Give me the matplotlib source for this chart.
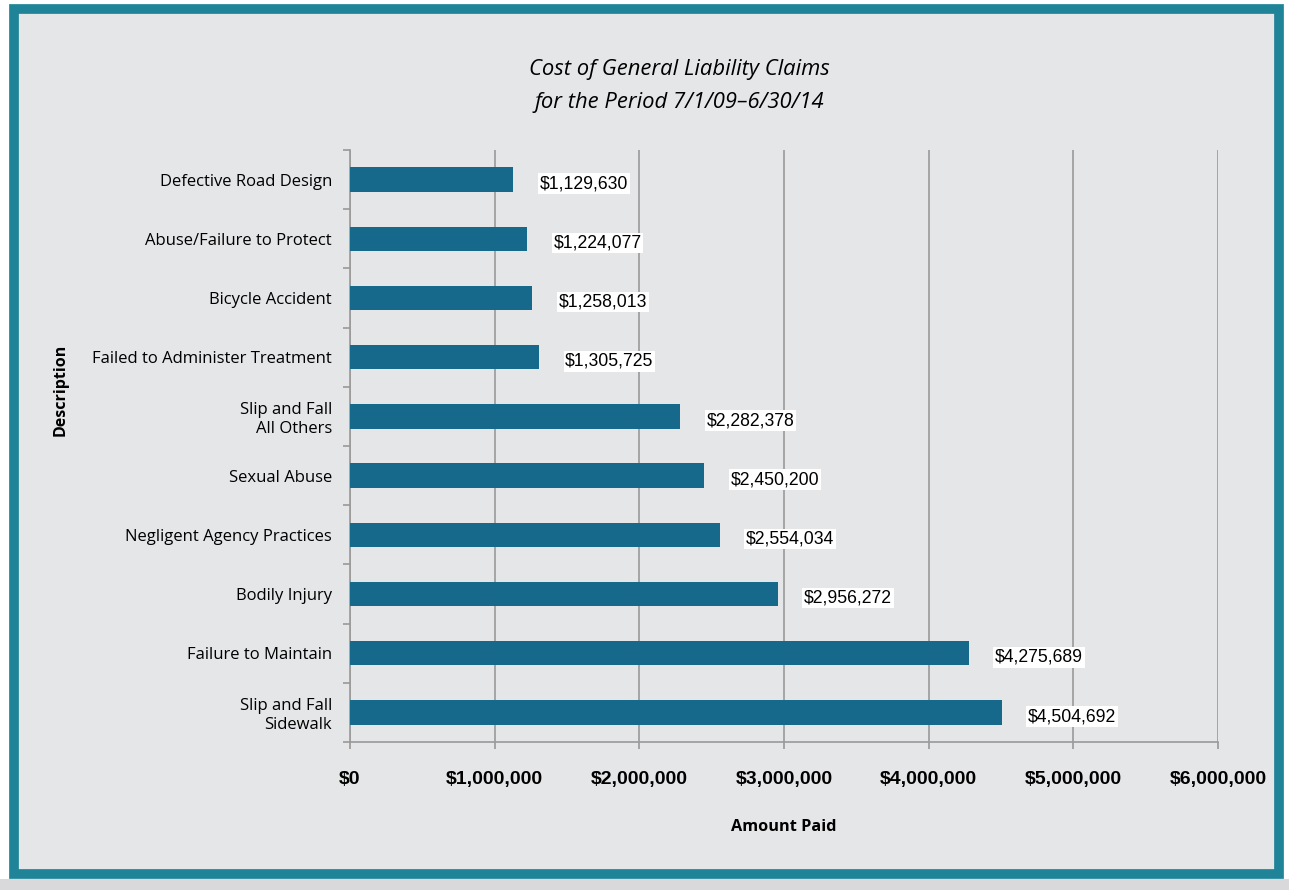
import matplotlib.pyplot as plt
from matplotlib.patches import Rectangle
from matplotlib.ticker import FuncFormatter, MultipleLocator

# claim categories, top to bottom
categories = [
    "Defective Road Design",
    "Abuse/Failure to Protect",
    "Bicycle Accident",
    "Failed to Administer Treatment",
    "Slip and Fall\nAll Others",
    "Sexual Abuse",
    "Negligent Agency Practices",
    "Bodily Injury",
    "Failure to Maintain",
    "Slip and Fall\nSidewalk",
]
amounts = [1129630, 1224077, 1258013, 1305725, 2282378,
           2450200, 2554034, 2956272, 4275689, 4504692]

bar_color = "#17698c"
frame_color = "#1f8497"
panel_color = "#e5e6e8"

fig = plt.figure(figsize=(12.89, 8.9), dpi=100)
fig.patch.set_facecolor("white")

# teal-bordered panel behind the chart
fig.patches.append(Rectangle((0, 0), 1, 0.012, transform=fig.transFigure,
                             facecolor="#d9d9db", edgecolor="none", zorder=-2))
fig.patches.append(Rectangle((0.0105, 0.0175), 0.982, 0.9725, transform=fig.transFigure,
                             facecolor=panel_color, edgecolor=frame_color,
                             linewidth=7, zorder=-1))

ax = fig.add_axes([0.2715, 0.1663, 0.6735, 0.6652])
ax.set_facecolor("none")

ypos = list(range(len(categories)))
ax.barh(ypos, amounts, height=0.41, color=bar_color, zorder=3)

for y, v in zip(ypos, amounts):
    ax.annotate(f"${v:,}", (v, y), xytext=(19, -3), textcoords="offset points",
                ha="left", va="center", fontsize=12.7, family="Liberation Sans",
                bbox=dict(boxstyle="square,pad=0.1", facecolor="white",
                          edgecolor="none"), zorder=4)

ax.set_ylim(len(categories) - 0.5, -0.5)
ax.set_xlim(0, 6000000)
ax.xaxis.set_major_locator(MultipleLocator(1000000))
ax.xaxis.set_major_formatter(FuncFormatter(lambda x, _: f"${x:,.0f}"))
ax.set_yticks(ypos)
ax.set_yticklabels(categories, fontsize=12, family="Open Sans", ha="right")
ax.set_yticks([i + 0.5 for i in range(-1, len(categories))], minor=True)

ax.tick_params(axis="y", which="major", length=0, pad=13)
ax.tick_params(axis="y", which="minor", length=5, color="#999999", width=1.2)
ax.tick_params(axis="x", length=5, color="#999999", width=1.2, pad=16)
for lbl in ax.get_xticklabels():
    lbl.set_fontweight("bold")
    lbl.set_fontsize(14)
    lbl.set_family("Liberation Sans")

ax.grid(axis="x", color="#9a9a9a", linewidth=1.2, zorder=1)
for side in ("top", "right"):
    ax.spines[side].set_visible(False)
for side in ("left", "bottom"):
    ax.spines[side].set_color("#9a9a9a")
    ax.spines[side].set_linewidth(1.2)

ax.set_xlabel("Amount Paid", fontsize=11.7, fontweight="bold",
              family="Open Sans", labelpad=22)
fig.text(0.047, 0.562, "Description", rotation=90, ha="center", va="center",
         fontsize=11.5, fontweight="bold", family="Open Sans")

fig.text(0.527, 0.903, "Cost of General Liability Claims\nfor the Period 7/1/09\u20136/30/14",
         ha="center", va="center", fontsize=15.8, style="italic",
         family="Open Sans", linespacing=1.75)

fig.savefig("out.png", dpi=100, facecolor=fig.get_facecolor())
